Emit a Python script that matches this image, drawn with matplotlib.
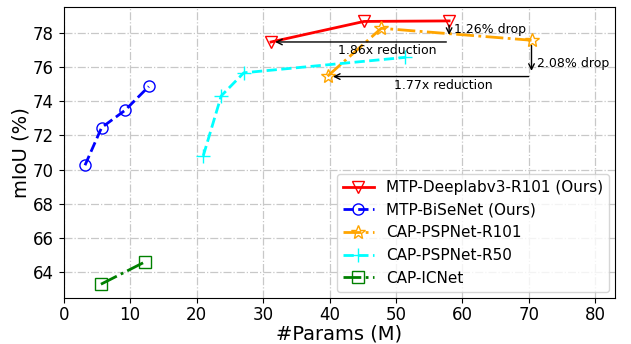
import matplotlib
matplotlib.use("Agg")
import matplotlib.pyplot as plt

# data
deeplab_x = [31.2, 45.2, 58.0]
deeplab_y = [77.45, 78.65, 78.68]

bisenet_x = [3.2, 5.7, 9.2, 12.8]
bisenet_y = [70.25, 72.45, 73.45, 74.85]

psp101_x = [39.7, 47.8, 70.4]
psp101_y = [75.45, 78.25, 77.55]

psp50_x = [21.0, 23.7, 27.1, 51.4]
psp50_y = [70.8, 74.3, 75.65, 76.55]

icnet_x = [5.6, 12.2]
icnet_y = [63.3, 64.6]

fig = plt.figure(figsize=(6.31, 3.44), dpi=100)
ax = fig.add_axes([0.101, 0.134, 0.874, 0.846])

ax.grid(True, linestyle="-.", color="#c8c8c8", linewidth=0.9)
ax.set_axisbelow(True)

ax.plot(deeplab_x, deeplab_y, "r-", marker="v", markersize=9, mfc="none", lw=2,
        label="MTP-Deeplabv3-R101 (Ours)")
ax.plot(bisenet_x, bisenet_y, "b--", marker="o", markersize=8, mfc="none", lw=2,
        label="MTP-BiSeNet (Ours)")
ax.plot(psp101_x, psp101_y, color="orange", ls="-.", marker="*", markersize=10, mfc="none",
        lw=2, label="CAP-PSPNet-R101")
ax.plot(psp50_x, psp50_y, color="cyan", ls="--", marker="+", markersize=10, lw=2,
        label="CAP-PSPNet-R50")
ax.plot(icnet_x, icnet_y, color="green", ls="-.", marker="s", markersize=9, mfc="none",
        lw=2, label="CAP-ICNet")

arrow = dict(arrowstyle="->", color="black", lw=1)
# deeplab annotations
ax.annotate("", xy=(deeplab_x[2], 77.7), xytext=(deeplab_x[2], 78.6), arrowprops=arrow)
ax.text(58.8, 78.2, "1.26% drop", fontsize=9, va="center")
ax.annotate("", xy=(31.4, 77.45), xytext=(deeplab_x[2], 77.45), arrowprops=arrow)
ax.text(48.7, 76.95, "1.86x reduction", fontsize=9, ha="center", va="center")
# pspnet annotations
ax.annotate("", xy=(psp101_x[2], 75.6), xytext=(psp101_x[2], 77.4), arrowprops=arrow)
ax.text(71.2, 76.2, "2.08% drop", fontsize=9, va="center")
ax.annotate("", xy=(40.1, 75.43), xytext=(psp101_x[2], 75.43), arrowprops=arrow)
ax.text(57.2, 74.9, "1.77x reduction", fontsize=9, ha="center", va="center")

ax.set_xlim(0, 83)
ax.set_ylim(62.5, 79.5)
ax.set_xticks(range(0, 81, 10))
ax.set_yticks(range(64, 79, 2))
ax.tick_params(labelsize=12)
ax.tick_params(axis="x", pad=2.5)
ax.set_xlabel("#Params (M)", fontsize=14, labelpad=0)
ax.set_ylabel("mIoU (%)", fontsize=14, labelpad=2)
ax.legend(loc="lower right", fontsize=11, borderaxespad=0.4, handlelength=2.0)

fig.savefig("out.png", dpi=100)
